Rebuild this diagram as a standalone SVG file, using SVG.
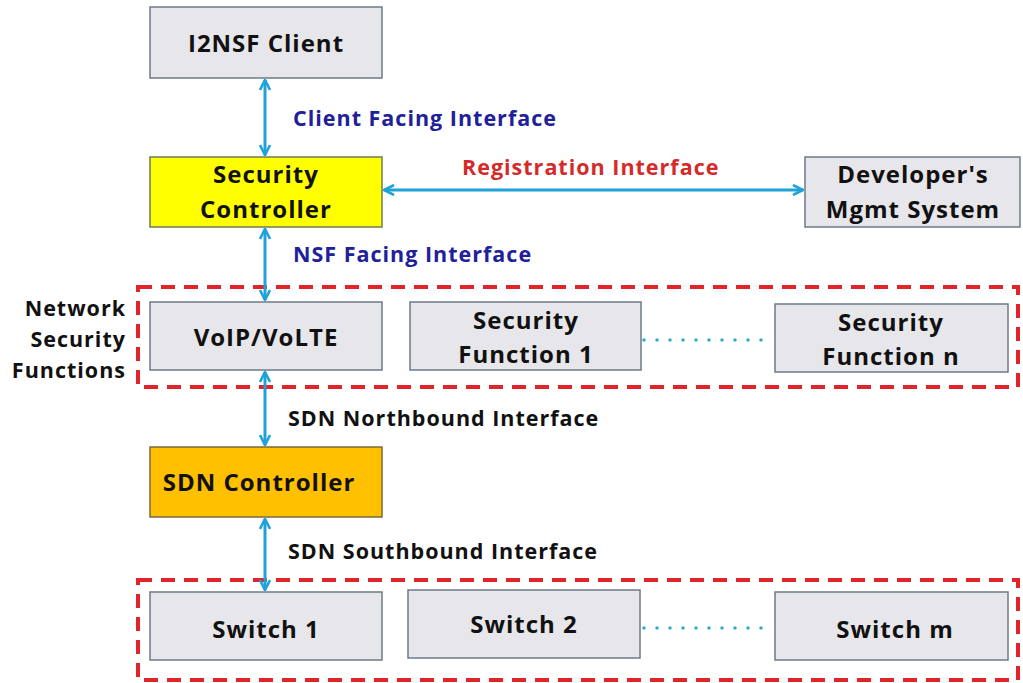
<svg xmlns="http://www.w3.org/2000/svg" width="1023" height="683" viewBox="0 0 1023 683">
<style>
.box{fill:#e7e6ea;stroke:#6d7b88;stroke-width:1.5}
.t{font-family:"Open Sans","Noto Sans",sans-serif;font-weight:700;font-size:24px;letter-spacing:1px;fill:#111;text-anchor:middle;dominant-baseline:central}
.lbl{font-family:"Open Sans","Noto Sans",sans-serif;font-weight:700;font-size:21.5px;letter-spacing:1px;dominant-baseline:central}
.blue{fill:#20209a}
.red{fill:#d42a2a}
.blk{fill:#111}
.arr{stroke:#1fa2d8;stroke-width:3;fill:none;marker-start:url(#h);marker-end:url(#h)}
.dash{fill:none;stroke:#e0242a;stroke-width:4;stroke-dasharray:14 9}
.dot{stroke:#33aacb;stroke-width:3.5;stroke-linecap:round;stroke-dasharray:0 13}
</style>
<defs>
<marker id="h" viewBox="0 0 12 12" refX="11" refY="6" markerWidth="12" markerHeight="12" markerUnits="userSpaceOnUse" orient="auto-start-reverse">
<polyline points="1,1 11,6 1,11" fill="none" stroke="#1fa2d8" stroke-width="2.6"/>
</marker>
</defs>
<rect width="1023" height="683" fill="#fff"/>
<g id="groups">
<rect class="dash" x="138" y="287" width="880" height="100"/>
<rect class="dash" x="138" y="580" width="880" height="100"/>
</g>
<g id="connectors">
<line class="arr" x1="265" y1="80" x2="265" y2="155"/>
<line class="arr" x1="265" y1="229" x2="265" y2="300"/>
<line class="arr" x1="384" y1="190" x2="803" y2="190"/>
<line class="arr" x1="265" y1="372" x2="265" y2="445"/>
<line class="arr" x1="265" y1="519" x2="265" y2="590"/>
<line class="dot" x1="644" y1="340" x2="772" y2="340"/>
<line class="dot" x1="644" y1="628" x2="772" y2="628"/>
</g>
<g id="labels">
<text class="lbl blue" x="293" y="117">Client Facing Interface</text>
<text class="lbl red" x="462" y="166">Registration Interface</text>
<text class="lbl blue" x="293" y="253">NSF Facing Interface</text>
<text class="lbl blk" x="288" y="417">SDN Northbound Interface</text>
<text class="lbl blk" x="288" y="550">SDN Southbound Interface</text>
<text class="lbl blk" x="126" y="307" text-anchor="end">Network</text>
<text class="lbl blk" x="126" y="338" text-anchor="end">Security</text>
<text class="lbl blk" x="126" y="369" text-anchor="end">Functions</text>
</g>
<g id="i2nsf-client">
<rect class="box" x="150" y="7" width="232" height="71"/>
<text class="t" x="266" y="42">I2NSF Client</text>
</g>
<g id="security-controller">
<rect x="150" y="157" width="232" height="70" fill="#ffff00" stroke="#6d7b5a" stroke-width="1.5"/>
<text class="t" x="266" y="173">Security</text>
<text class="t" x="266" y="208">Controller</text>
</g>
<g id="developers-mgmt">
<rect class="box" x="805" y="157" width="215" height="70"/>
<text class="t" x="913" y="173">Developer's</text>
<text class="t" x="913" y="208">Mgmt System</text>
</g>
<g id="voip-volte">
<rect class="box" x="150" y="302" width="232" height="68"/>
<text class="t" x="266" y="336">VoIP/VoLTE</text>
</g>
<g id="security-function-1">
<rect class="box" x="410" y="302" width="231" height="68"/>
<text class="t" x="526" y="319">Security</text>
<text class="t" x="526" y="353">Function 1</text>
</g>
<g id="security-function-n">
<rect class="box" x="775" y="304" width="233" height="68"/>
<text class="t" x="891" y="321">Security</text>
<text class="t" x="891" y="355">Function n</text>
</g>
<g id="sdn-controller">
<rect x="150" y="447" width="232" height="70" fill="#ffc000" stroke="#7a6a40" stroke-width="1.5"/>
<text class="t" x="259" y="481">SDN Controller</text>
</g>
<g id="switch-1">
<rect class="box" x="150" y="592" width="232" height="68"/>
<text class="t" x="266" y="628">Switch 1</text>
</g>
<g id="switch-2">
<rect class="box" x="408" y="590" width="232" height="68"/>
<text class="t" x="524" y="623">Switch 2</text>
</g>
<g id="switch-m">
<rect class="box" x="775" y="592" width="233" height="68"/>
<text class="t" x="895" y="628">Switch m</text>
</g>
</svg>
